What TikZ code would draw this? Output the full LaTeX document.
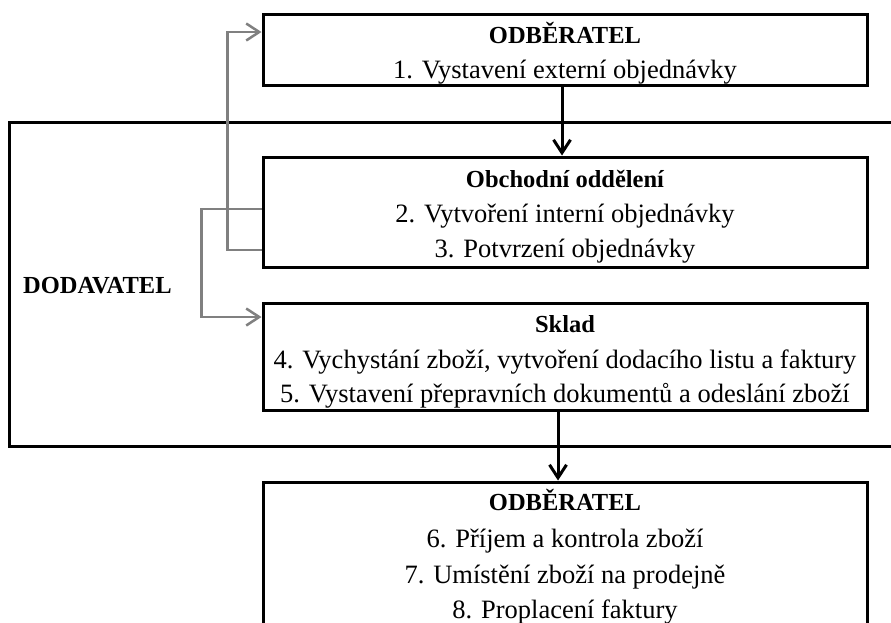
\documentclass[tikz,border=0pt]{standalone}
\usepackage{fontspec}
\setmainfont{Liberation Serif}
\usetikzlibrary{arrows.meta}
\definecolor{linegray}{RGB}{128,128,128}
\tikzset{
  box/.style={draw=black, line width=3pt, fill=white, inner sep=0pt},
  frame/.style={draw=black, line width=3pt, inner sep=0pt},
  ttl/.style={anchor=base, font=\fontsize{24.5}{30}\selectfont\bfseries, inner sep=0pt},
  itm/.style={anchor=base, font=\fontsize{26.5}{32}\selectfont, inner sep=0pt},
  blackarrow/.style={draw=black, line width=3pt, -{Straight Barb[length=13pt,width=17pt,line width=3pt]}},
  grayarrow/.style={draw=linegray, line width=2.5pt, -{Straight Barb[length=13pt,width=17pt,line width=2.5pt]}},
  grayline/.style={draw=linegray, line width=2.5pt}
}
\begin{document}
\begin{tikzpicture}[x=1pt,y=-1pt]
\useasboundingbox (0,0) rectangle (891,622);
\clip (0,0) rectangle (891,622);
\fill[white] (0,0) rectangle (891,622);
% supplier frame
\node[frame, minimum width=900pt, minimum height=324pt] (dod) at (459,284) {};
\node[ttl, anchor=base west] (dodlbl) at (23,293) {DODAVATEL};
% boxes
\node[box, minimum width=604pt, minimum height=71pt] (odb1) at (565,49.5) {};
\node[box, minimum width=604pt, minimum height=110pt] (obch) at (565,212) {};
\node[box, minimum width=604pt, minimum height=107pt] (sklad) at (565,356.5) {};
\node[box, minimum width=604pt, minimum height=170pt] (odb2) at (565,567) {};
% texts
\node[ttl] (t1) at (565,43) {ODBĚRATEL};
\node[itm] (t1a) at (565,78) {1. Vystavení externí objednávky};
\node[ttl] (t2) at (565,187) {Obchodní oddělení};
\node[itm] (t2a) at (565,222) {2. Vytvoření interní objednávky};
\node[itm] (t2b) at (565,257) {3. Potvrzení objednávky};
\node[ttl] (t3) at (565,332) {Sklad};
\node[itm] (t3a) at (565,368) {4. Vychystání zboží, vytvoření dodacího listu a faktury};
\node[itm] (t3b) at (565,402) {5. Vystavení přepravních dokumentů a odeslání zboží};
\node[ttl] (t4) at (565,510) {ODBĚRATEL};
\node[itm] (t4a) at (565,547) {6. Příjem a kontrola zboží};
\node[itm] (t4b) at (565,583) {7. Umístění zboží na prodejně};
\node[itm] (t4c) at (565,618) {8. Proplacení faktury};
% black arrows
\draw[blackarrow] ([xshift=-3pt]odb1.south) -- ([xshift=-3pt]obch.north);
\draw[blackarrow] ([xshift=-7pt]sklad.south) -- ([xshift=-7pt]odb2.north);
% gray connectors
\draw[grayarrow] ([yshift=-38pt]obch.west) -- ++(-34pt,0) |- ([yshift=17.5pt]odb1.west);
\draw[grayarrow] ([yshift=3pt]obch.west) -- ++(-60pt,0) |- ([yshift=39.5pt]sklad.west);
\end{tikzpicture}
\end{document}
